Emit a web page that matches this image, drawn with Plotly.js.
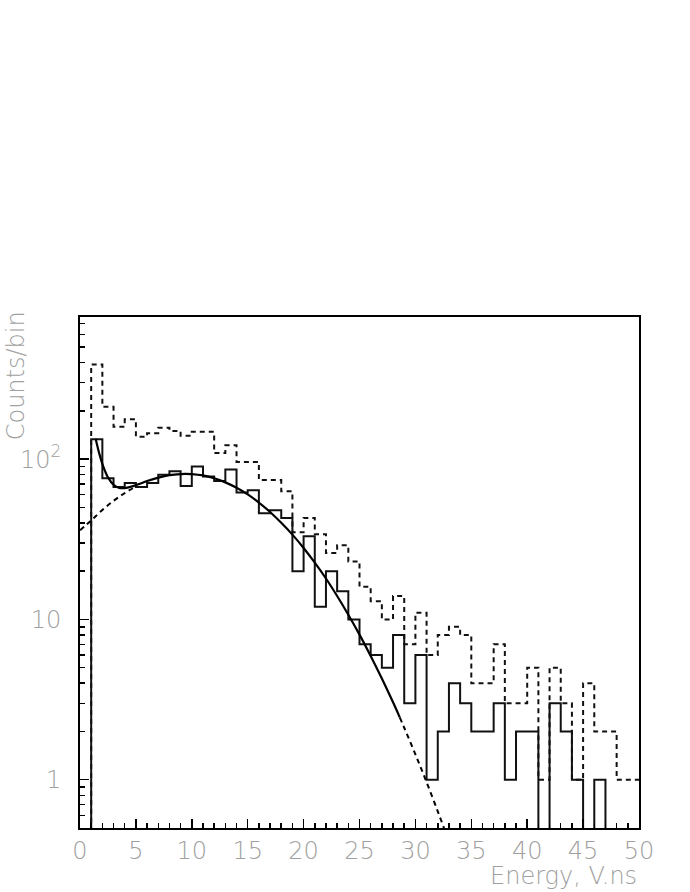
<!DOCTYPE html>
<html>
<head>
<meta charset="utf-8">
<script src="https://cdn.plot.ly/plotly-3.0.1.min.js"></script>
<style>html,body{margin:0;padding:0;background:#fff;}#chart{width:690px;height:892px;}</style>
</head>
<body>
<div id="chart"></div>
<script>
// Bin left edges (bin width 1), energy V.ns
const binEdges = [1,2,3,4,5,6,7,8,9,10,11,12,13,14,15,16,17,18,19,20,21,22,23,24,25,26,27,28,29,30,31,32,33,34,35,36,37,38,39,40,41,42,43,44,45,46,47,48,49];
// Solid histogram counts
const solidCounts = [133,76,67,71,67,71,80,84,68,90,78,73,86,62,64,46,48,43,20,33,12,20,15,10,7,6,5,8,3,6,1,2,4,3,2,2,3,1,2,2,0,3,2,1,0,1,0,0,0];
// Dashed histogram counts
const dashedCounts = [389,212,159,177,138,145,157,150,140,148,148,109,122,96,96,74,74,63,35,43,34,26,29,23,16,13,10,14,7,11,6,8,9,8,4,4,7,3,3,5,1,5,3,1,4,2,2,1,1];
// Fit curve (solid part)
const fitX = [1.4,1.6,1.75,2,2.25,2.5,3,3.5,4,5,6,7,8,9.4,10,11,12,13,14,15,16,17,18,19,20,21,22,23,24,25,26,27,28,28.6];
const fitY = [134,117,106.7,93.3,83.8,76.9,69.2,66.2,65.9,68.8,73,76.7,79.5,81,80.7,79.1,76,71.6,66.3,60.2,53.6,46.8,40.1,33.8,27.9,22.6,18,14,10.7,8.04,5.92,4.28,3.04,2.45];
// Fit curve dashed extension
const tailX = [28.6,29,30,31,32,32.6,33];
const tailY = [2.45,2.11,1.44,0.965,0.635,0.49,0.41];
// Gaussian component at low energy (dashed)
const gausX = [0,1,2,3,4,5];
const gausY = [36,41.4,48.2,54.9,61.4,67.4];

const xTicks = [0,5,10,15,20,25,30,35,40,45,50];
const yTicks = [1,10,100];
const yTickText = ['1','10','10<sup>2</sup>'];

const FLOOR = 0.1; // zero bins are drawn at the bottom of the frame
function histPath(edges, counts){
  const xs = [edges[0]], ys = [FLOOR];
  for (let i=0;i<edges.length;i++){ xs.push(edges[i]); ys.push(counts[i] > 0 ? counts[i] : FLOOR); }
  xs.push(edges[edges.length-1]+1); ys.push(counts[counts.length-1] > 0 ? counts[counts.length-1] : FLOOR);
  return {xs, ys};
}
const hs = histPath(binEdges, solidCounts);
const hd = histPath(binEdges, dashedCounts);

const minorY = [];
[0.1,1,10,100].forEach(d => { for (let k=2;k<=9;k++) minorY.push(k*d); });

const gray = '#a0a0a0';
const fontFam = '"DejaVu Sans", sans-serif';
const tf = {family: fontFam, size:24, color: gray, weight:200};
const titleFont = {family: fontFam, size:24, color: gray, weight:200};

const traces = [
  {x: hd.xs, y: hd.ys, mode:'lines', line:{shape:'hv', color:'#111', width:2, dash:'5px,4px'}, hoverinfo:'skip'},
  {x: hs.xs, y: hs.ys, mode:'lines', line:{shape:'hv', color:'#111', width:2}, hoverinfo:'skip'},
  {x: gausX, y: gausY, mode:'lines', line:{shape:'spline', color:'#000', width:2, dash:'5px,4px'}, hoverinfo:'skip'},
  {x: fitX, y: fitY, mode:'lines', line:{shape:'spline', color:'#000', width:2.2}, hoverinfo:'skip'},
  {x: tailX, y: tailY, mode:'lines', line:{shape:'spline', color:'#000', width:2, dash:'5px,4px'}, hoverinfo:'skip'}
];

const layout = {
  width: 690, height: 892,
  margin: {l:80, r:51, t:317, b:64},
  paper_bgcolor:'#fff', plot_bgcolor:'#fff',
  showlegend:false,
  font: tf,
  xaxis:{
    range:[0,50], showgrid:false, zeroline:false,
    showline:true, linecolor:'#000', linewidth:2, mirror:true,
    ticks:'inside', ticklen:9, tickwidth:1.5, tickcolor:'#000',
    tickmode:'array', tickvals:xTicks, ticktext:xTicks.map(String),
    ticklabelstandoff: 0,
    tickfont: tf,
    minor:{ticks:'inside', ticklen:5, tickwidth:1.5, tickcolor:'#000', dtick:1, showgrid:false}
  },
  yaxis:{
    type:'log', range:[Math.log10(0.5), Math.log10(770)], showgrid:false, zeroline:false,
    showline:true, linecolor:'#000', linewidth:2, mirror:true,
    ticks:'inside', ticklen:9, tickwidth:1.5, tickcolor:'#000',
    tickmode:'array', tickvals:yTicks, ticktext:yTickText,
    ticklabelstandoff: 12,
    tickfont: tf,
    minor:{ticks:'inside', ticklen:5, tickwidth:1.5, tickcolor:'#000', tickmode:'array', tickvals:minorY, showgrid:false}
  },
  annotations:[
    {text:'Counts/bin', xref:'paper', yref:'paper', x:-0.114, y:0.8845, xanchor:'center', yanchor:'middle',
     textangle:-90, showarrow:false, font: titleFont},
    {text:'Energy, V.ns', xref:'paper', yref:'paper', x:1.0, y:-0.1252, xanchor:'right', yanchor:'bottom',
     showarrow:false, font: titleFont}
  ]
};

Plotly.newPlot('chart', traces, layout, {staticPlot:true, displayModeBar:false});
</script>
</body>
</html>
